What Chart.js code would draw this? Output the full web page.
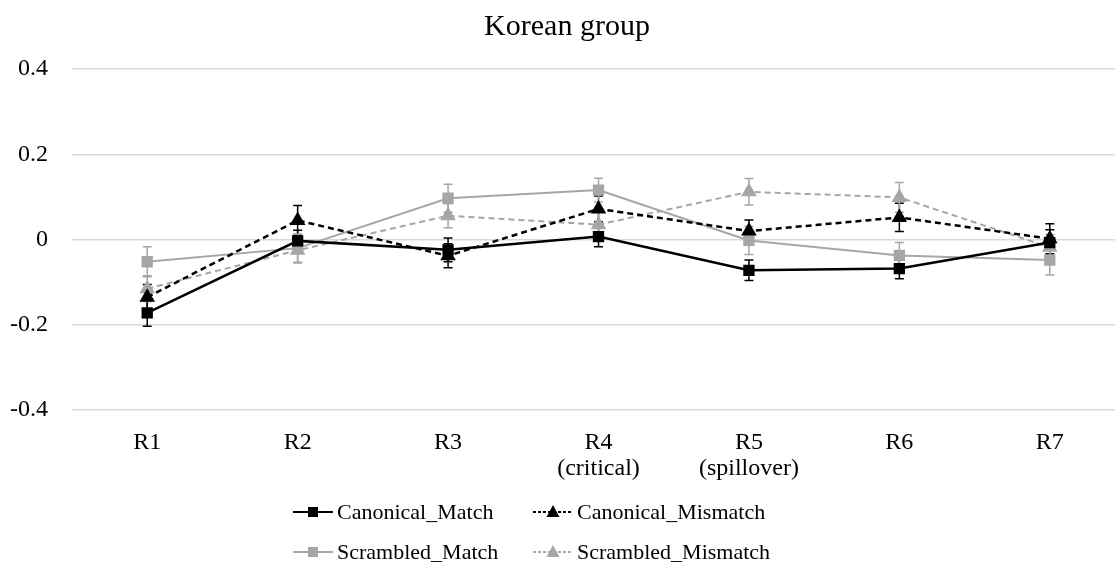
<!DOCTYPE html>
<html>
<head>
<meta charset="utf-8">
<script src="https://cdn.jsdelivr.net/npm/chart.js@4"></script>
<style>
  html, body { margin: 0; padding: 0; background: #fff; overflow: hidden; }
  #wrap { position: relative; width: 1115px; height: 562px; overflow: hidden; }
  #legend {
    position: absolute; left: 293px; top: 498px;
    display: grid; grid-template-columns: 240px 300px; row-gap: 12px;
    font-family: "Liberation Serif", "Times New Roman", serif; font-size: 22px; color: #000;
  }
  .item { display: flex; align-items: center; height: 28px; }
  .item svg { margin-right: 4px; }
</style>
</head>
<body>
<div id="wrap">
  <canvas id="chart-1" width="1134" height="562"></canvas>
  <div id="legend"></div>
</div>
<script>
// categories and series
const regions = ['R1', 'R2', 'R3', ['R4', '(critical)'], ['R5', '(spillover)'], 'R6', 'R7'];
const yTicks = [-0.4, -0.2, 0, 0.2, 0.4];

const canonicalMatch    = [-0.172, -0.003, -0.024, 0.007, -0.072, -0.068, -0.007];
const canonicalMismatch = [-0.135,  0.045, -0.038, 0.072,  0.020,  0.052,  0.002];
const scrambledMatch    = [-0.052, -0.020,  0.097, 0.116, -0.002, -0.037, -0.048];
const scrambledMismatch = [-0.115, -0.025,  0.056, 0.035,  0.112,  0.099, -0.018];

// error bar half-widths
const canonicalMatchErr    = [0.031, 0.025, 0.028, 0.024, 0.024, 0.024, 0.030];
const canonicalMismatchErr = [0.030, 0.035, 0.028, 0.030, 0.026, 0.033, 0.035];
const scrambledMatchErr    = [0.035, 0.033, 0.033, 0.028, 0.033, 0.030, 0.035];
const scrambledMismatchErr = [0.030, 0.030, 0.028, 0.030, 0.031, 0.035, 0.030];

const BLACK = '#000000';
const GRAY = '#a6a6a6';
const serif = '"Liberation Serif", "Times New Roman", serif';

function series(label, data, errors, color, dashed, shape, width) {
    return {
        label: label,
        data: data,
        errors: errors,
        borderColor: color,
        backgroundColor: color,
        borderWidth: width,
        borderDash: dashed ? [6, 4] : [],
        pointStyle: shape,
        pointRadius: shape === 'rect' ? 8 : 9,
        pointHoverRadius: shape === 'rect' ? 8 : 9,
        pointBorderWidth: 0,
        tension: 0,
        fill: false
    };
}

// draws the error bars through the chart's own scales
const errorBars = {
    id: 'errorBars',
    beforeDatasetsDraw(chart) {
        const ctx = chart.ctx;
        const y = chart.scales.y;
        chart.data.datasets.forEach((ds, i) => {
            const meta = chart.getDatasetMeta(i);
            ctx.save();
            ctx.strokeStyle = ds.borderColor;
            ctx.lineWidth = 1.5;
            meta.data.forEach((pt, j) => {
                const v = ds.data[j], e = ds.errors[j];
                const top = y.getPixelForValue(v + e);
                const bot = y.getPixelForValue(v - e);
                ctx.beginPath();
                ctx.moveTo(pt.x, top); ctx.lineTo(pt.x, bot);
                ctx.moveTo(pt.x - 4.5, top); ctx.lineTo(pt.x + 4.5, top);
                ctx.moveTo(pt.x - 4.5, bot); ctx.lineTo(pt.x + 4.5, bot);
                ctx.stroke();
            });
            ctx.restore();
        });
    }
};

const ctx = document.getElementById('chart-1');
const chart = new Chart(ctx, {
    type: 'line',
    data: {
        labels: regions,
        datasets: [
            series('Canonical_Match', canonicalMatch, canonicalMatchErr, BLACK, false, 'rect', 2.5),
            series('Canonical_Mismatch', canonicalMismatch, canonicalMismatchErr, BLACK, true, 'triangle', 2.5),
            series('Scrambled_Match', scrambledMatch, scrambledMatchErr, GRAY, false, 'rect', 2),
            series('Scrambled_Mismatch', scrambledMismatch, scrambledMismatchErr, GRAY, true, 'triangle', 2)
        ]
    },
    options: {
        responsive: false,
        animation: false,
        layout: { padding: { left: 0, right: 0, top: 9, bottom: 69 } },
        scales: {
            x: {
                offset: true,
                grid: { display: false },
                border: { display: false },
                ticks: {
                    padding: 11,
                    color: '#000',
                    maxRotation: 0,
                    font: { family: serif, size: 24, lineHeight: 1.1 }
                }
            },
            y: {
                min: -0.4,
                max: 0.4,
                afterBuildTicks(scale) {
                    scale.ticks = yTicks.map(v => ({ value: v }));
                },
                afterFit(scale) { scale.width = 72; },
                grid: { color: '#d9d9d9', lineWidth: 1.5, drawTicks: false },
                border: { display: false },
                ticks: {
                    padding: 24,
                    color: '#000',
                    font: { family: serif, size: 24 },
                    callback: v => (v === 0 ? '0' : v.toFixed(1))
                }
            }
        },
        plugins: {
            legend: { display: false },
            tooltip: { enabled: false },
            title: {
                display: true,
                text: 'Korean group',
                color: '#000',
                font: { family: serif, size: 30, weight: 'normal' },
                padding: { top: 0, bottom: 24 }
            }
        }
    },
    plugins: [errorBars]
});

// legend below the chart: line with marker, then label
const legendEl = document.getElementById('legend');
chart.data.datasets.forEach(ds => {
    const dash = ds.borderDash.length ? 'stroke-dasharray="3,2"' : '';
    const marker = ds.pointStyle === 'rect'
        ? '<rect x="15" y="9" width="10" height="10" fill="' + ds.borderColor + '"/>'
        : '<polygon points="20,7 26.5,19 13.5,19" fill="' + ds.borderColor + '"/>';
    const item = document.createElement('div');
    item.className = 'item';
    item.innerHTML =
        '<svg width="40" height="28"><line x1="0" y1="14" x2="40" y2="14" stroke="' + ds.borderColor +
        '" stroke-width="2" ' + dash + '/>' + marker + '</svg><span>' + ds.label + '</span>';
    legendEl.appendChild(item);
});
</script>
</body>
</html>
